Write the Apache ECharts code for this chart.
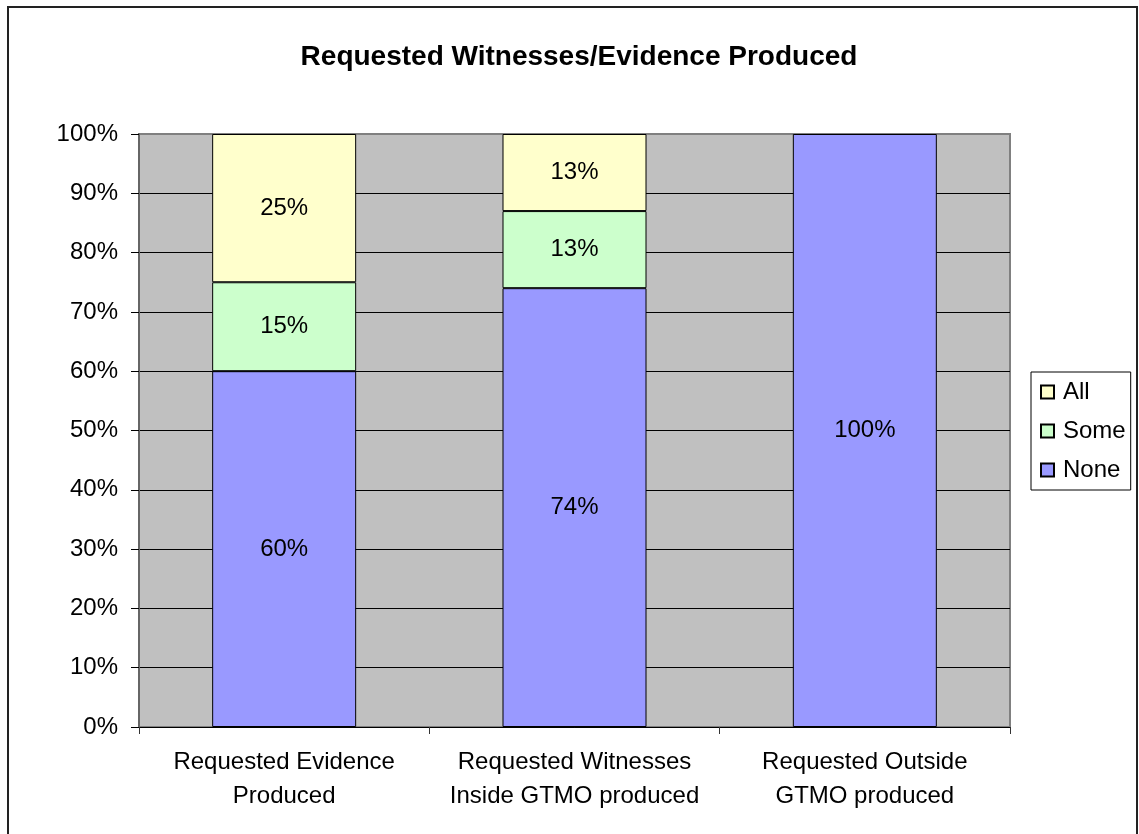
<!DOCTYPE html>
<html>
<head>
<meta charset="utf-8">
<script src="https://cdn.jsdelivr.net/npm/echarts@6/dist/echarts.min.js"></script>
<style>
  html, body { margin: 0; padding: 0; background: #fff; }
  #chart { width: 1139px; height: 834px; }
</style>
</head>
<body>
<div id="chart"></div>
<script>
// categories and stacked shares (percent)
const categories = ['Requested Evidence\nProduced', 'Requested Witnesses\nInside GTMO produced', 'Requested Outside\nGTMO produced'];
const noneValues = [60, 74, 100];
const someValues = [15, 13, 0];
const allValues = [25, 13, 0];
const legendOrder = ['All', 'Some', 'None'];

const font = "'Liberation Sans', Arial, sans-serif";

function barSeries(name, values, color) {
  return {
    name: name,
    type: 'bar',
    stack: 'total',
    barWidth: 144,
    data: values.map(v => v === 0 ? null : v),
    itemStyle: { color: color, borderColor: '#000', borderWidth: 1 },
    label: {
      show: true,
      position: 'inside',
      color: '#000',
      fontFamily: font,
      fontSize: 24,
      formatter: p => p.value + '%'
    }
  };
}

const chart = echarts.init(document.getElementById('chart'));
chart.setOption({
  animation: false,
  backgroundColor: '#fff',
  title: {
    text: 'Requested Witnesses/Evidence Produced',
    left: 574,
    top: 38,
    textAlign: 'center',
    textStyle: { fontFamily: font, fontSize: 28, fontWeight: 'bold', color: '#000' }
  },
  graphic: [{
    type: 'rect',
    shape: { x: 8, y: 7, width: 1129, height: 900 },
    style: { fill: 'none', stroke: '#222', lineWidth: 2 },
    silent: true
  }],
  legend: {
    data: legendOrder,
    orient: 'vertical',
    left: 1031,
    top: 372,
    icon: 'rect',
    itemWidth: 13,
    itemHeight: 13,
    itemGap: 15,
    padding: [8, 5, 8, 9],
    borderColor: '#000',
    borderWidth: 1,
    backgroundColor: '#fff',
    textStyle: { fontFamily: font, fontSize: 24, color: '#000', padding: [0, 0, 0, 4] }
  },
  grid: {
    left: 139, right: 129, top: 134, bottom: 107,
    show: true,
    backgroundColor: '#C0C0C0',
    borderColor: '#808080',
    borderWidth: 2
  },
  xAxis: {
    type: 'category',
    data: categories,
    axisLine: { lineStyle: { color: '#000', width: 1 } },
    axisTick: { show: true, length: 7, lineStyle: { color: '#333' } },
    axisLabel: { color: '#000', fontFamily: font, fontSize: 24, lineHeight: 34, margin: 18, interval: 0 }
  },
  yAxis: {
    type: 'value',
    min: 0,
    max: 100,
    interval: 10,
    axisLine: { show: true, lineStyle: { color: '#666', width: 2 } },
    axisTick: { show: true, length: 8, lineStyle: { color: '#000' } },
    axisLabel: { color: '#000', fontFamily: font, fontSize: 24, margin: 21, formatter: '{value}%' },
    splitLine: {
      show: true,
      lineStyle: { color: ['#000', '#000', '#000', '#000', '#000', '#000', '#000', '#000', '#000', '#000', '#808080'], width: 1 }
    }
  },
  series: [
    barSeries('None', noneValues, '#9999FF'),
    barSeries('Some', someValues, '#CCFFCC'),
    barSeries('All', allValues, '#FFFFCC')
  ]
});
window.addEventListener('resize', () => chart.resize());
</script>
</body>
</html>
